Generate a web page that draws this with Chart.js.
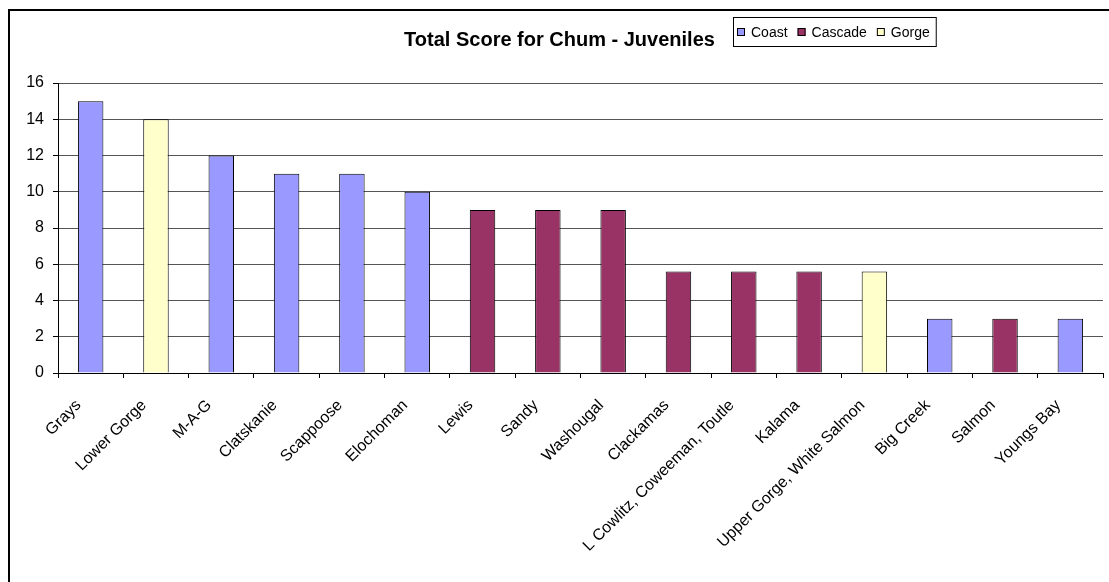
<!DOCTYPE html>
<html lang="en">
<head>
    <meta charset="UTF-8">
    <title>Total Score for Chum - Juveniles</title>
    <script src="https://cdn.jsdelivr.net/npm/chart.js"></script>
    <style>
        body {
            margin: 0;
            background: #fff;
        }

        #chumChart {
            display: block;
        }
    </style>
</head>
<body>
    <canvas id="chumChart" width="1109" height="582"></canvas>

    <script>
        // Populations in the order they appear on the axis
        const populations = ['Grays', 'Lower Gorge', 'M-A-G', 'Clatskanie', 'Scappoose', 'Elochoman',
            'Lewis', 'Sandy', 'Washougal', 'Clackamas', 'L Cowlitz, Coweeman, Toutle', 'Kalama',
            'Upper Gorge, White Salmon', 'Big Creek', 'Salmon', 'Youngs Bay'];
        const scores = [15, 14, 12, 11, 11, 10, 9, 9, 9, 5.6, 5.6, 5.6, 5.6, 3, 3, 3];
        const strata = ['Coast', 'Gorge', 'Coast', 'Coast', 'Coast', 'Coast', 'Cascade', 'Cascade',
            'Cascade', 'Cascade', 'Cascade', 'Cascade', 'Gorge', 'Coast', 'Cascade', 'Coast'];
        const strataNames = ['Coast', 'Cascade', 'Gorge'];
        const strataColors = ['#9999FF', '#993366', '#FFFFCC'];
        const yTicks = [0, 2, 4, 6, 8, 10, 12, 14, 16];

        const FONT = 'Arial, "Liberation Sans", sans-serif';

        // one dataset per stratum, null where the population belongs elsewhere
        const datasets = strataNames.map((name, i) => ({
            label: name,
            data: scores.map((v, j) => strata[j] === name ? v : null),
            backgroundColor: strataColors[i],
            borderColor: '#000',
            borderWidth: 1,
            barPercentage: 0.39,
            categoryPercentage: 1,
        }));

        // outer frame + boxed legend next to the title
        const frameAndLegend = {
            id: 'frameAndLegend',
            afterDraw(chart) {
                const ctx = chart.ctx;
                ctx.save();
                ctx.strokeStyle = '#000';
                ctx.lineWidth = 2;
                ctx.strokeRect(9, 10, 1200, 700);

                ctx.font = '14px ' + FONT;
                ctx.textBaseline = 'alphabetic';
                let x = 737;
                strataNames.forEach((name, i) => {
                    ctx.fillStyle = strataColors[i];
                    ctx.fillRect(x, 28, 8, 8);
                    ctx.lineWidth = 1;
                    ctx.strokeStyle = '#000';
                    ctx.strokeRect(x + 0.5, 28.5, 7, 7);
                    ctx.fillStyle = '#000';
                    ctx.fillText(name, x + 14, 37);
                    x += 14 + ctx.measureText(name).width + 10;
                });
                ctx.lineWidth = 1;
                ctx.strokeRect(733.5, 17.5, x - 733 - 4, 29);
                ctx.restore();
            }
        };

        new Chart(document.getElementById('chumChart'), {
            type: 'bar',
            data: { labels: populations, datasets: datasets },
            plugins: [frameAndLegend],
            options: {
                responsive: false,
                animation: false,
                layout: { padding: { top: 0, right: 6, bottom: 0, left: 16 } },
                plugins: {
                    legend: { display: false },
                    tooltip: { enabled: false },
                    title: {
                        display: true,
                        text: 'Total Score for Chum - Juveniles',
                        color: '#000',
                        font: { family: FONT, size: 20, weight: 'bold' },
                        padding: { top: 28, bottom: 31 },
                    },
                },
                scales: {
                    x: {
                        stacked: true,
                        offset: true,
                        afterFit: (scale) => { scale.height = 209; },
                        grid: {
                            offset: true,
                            drawOnChartArea: false,
                            drawTicks: true,
                            tickLength: 5,
                            color: '#000',
                        },
                        border: { color: '#000', width: 1 },
                        ticks: {
                            color: '#000',
                            font: { family: FONT, size: 16 },
                            minRotation: 45,
                            maxRotation: 45,
                            autoSkip: false,
                            padding: 18,
                            labelOffset: -12,
                        },
                    },
                    y: {
                        stacked: true,
                        min: 0,
                        max: 16,
                        afterFit: (scale) => { scale.width = 42; },
                        afterBuildTicks: (scale) => { scale.ticks = yTicks.map(v => ({ value: v })); },
                        grid: {
                            color: '#555',
                            lineWidth: 1,
                            drawTicks: true,
                            tickLength: 5,
                            tickColor: '#000',
                        },
                        border: { color: '#000', width: 1 },
                        ticks: {
                            color: '#000',
                            font: { family: FONT, size: 16 },
                            padding: 9,
                        },
                    },
                },
            },
        });
    </script>
</body>
</html>
